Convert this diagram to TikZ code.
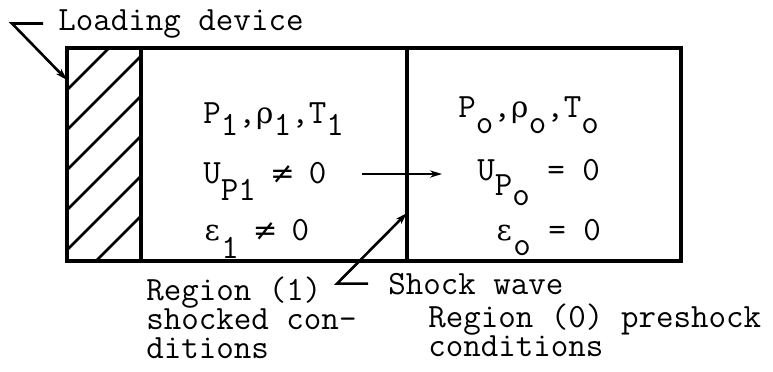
\documentclass[tikz,border=0pt]{standalone}
\usepackage{fontspec}
\newfontfamily\grk{DejaVu Serif}
\usepackage{tikz}
\usetikzlibrary{arrows.meta,calc}
\newcommand{\dn}[2][6pt]{\raisebox{-#1}{#2}}
\newcommand{\gl}[1]{\makebox[0.525em]{\grk\fontsize{14.7}{18}\selectfont #1}}
\tikzset{
  typed/.style={
    font=\ttfamily\fontsize{17}{20}\selectfont\addfontfeatures{FakeBold=1.2},
    inner sep=0pt,
    anchor=base west
  },
  wall/.style={
    line width=2pt
  },
  hatch/.style={
    line width=1.4pt
  },
  lead/.style={
    -{Stealth[length=6pt,width=3.6pt]},
    line width=1.3pt
  }
}
\begin{document}
\begin{tikzpicture}[x=0.5pt,y=-0.5pt]
\useasboundingbox (0,0) rectangle (773,371);
% tube with loading device and shock front
\draw[wall] (67,48) rectangle (681,261);
\draw[wall] (141,48) -- (141,261);
\draw[wall] (407,48) -- (407,261);
\begin{scope}
\clip (67,48) rectangle (141,261);
\foreach \c in {90,130,...,290}
  \draw[hatch] (67,\c) -- ++(74,-74);
\end{scope}
% state variables
\node[typed] (p1) at (203,123) {P\dn{1},\gl{ρ}\dn{1},T\dn{1}};
\node[typed] (u1) at (203,183) {U\dn[8.5pt]{P1} \gl{≠} 0};
\node[typed] (e1) at (203,240) {\gl{ε}\dn[9pt]{1} \gl{≠} 0};
\node[typed] (p0) at (458,117) {P\dn[8pt]{o},\gl{ρ}\dn[8pt]{o},T\dn[8pt]{o}};
\node[typed] (u0) at (477,180) {U\dn[7.5pt]{P}\dn[12.5pt]{o} = 0};
\node[typed] (e0) at (495,240) {\gl{ε}\dn[7.5pt]{o} = 0};
% labels
\node[typed] (load) at (58,30) {Loading device};
\node[typed] (shock) at (388,294) {Shock wave};
\node[typed] (reg1) at (146,300) {Region (1)};
\node[typed] (reg1b) at (146,329) {shocked con-};
\node[typed] (reg1c) at (146,358) {ditions};
\node[typed] (reg0) at (428,327) {Region (0) preshock};
\node[typed] (reg0b) at (428,356) {conditions};
% leaders
\coordinate (devtip) at (67,80);
\coordinate (shocktip) at (407,213);
\coordinate (flowA) at (362,174);
\coordinate (flowB) at (442,174);
\draw[lead] ($(load.west)+(-15,0)$) -- ++(-31,0) -- (devtip);
\draw[lead] ($(shock.west)+(-20,0)$) -- ++(-31,0) -- (shocktip);
\draw[lead] (flowA) -- (flowB);
\end{tikzpicture}
\end{document}
